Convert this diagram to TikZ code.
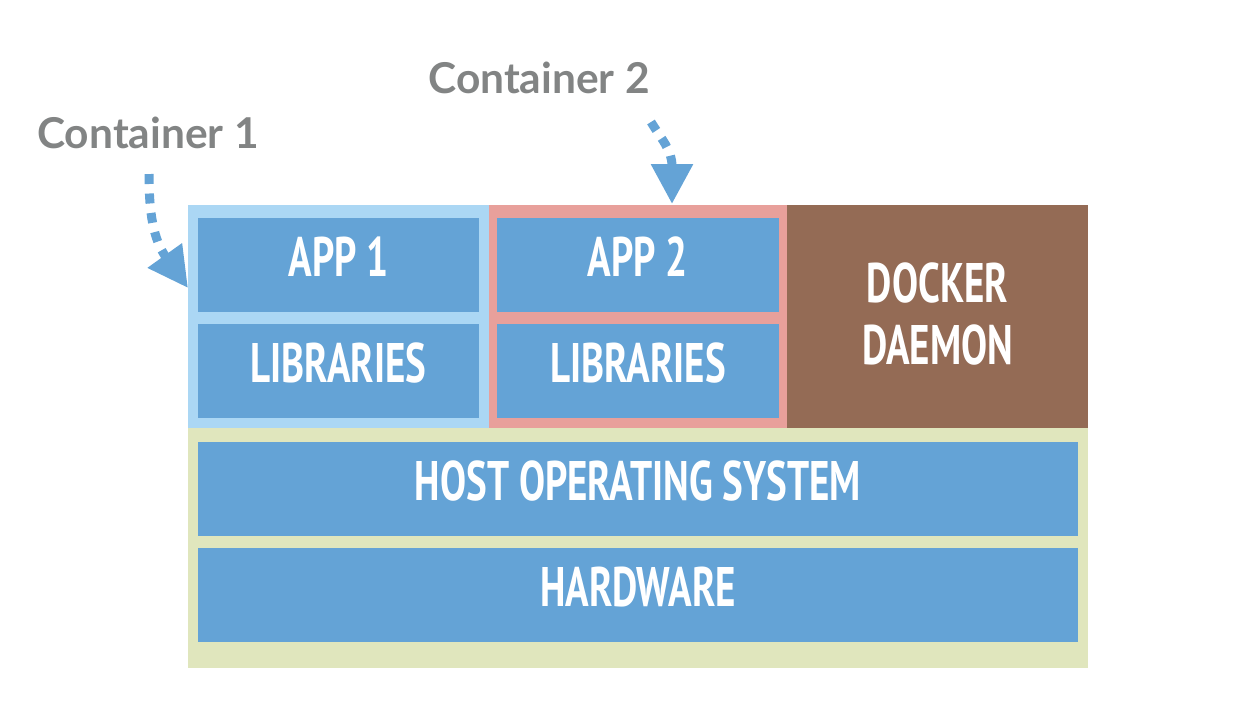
\documentclass[tikz,border=0pt]{standalone}
\usepackage{fontspec}
\usetikzlibrary{arrows.meta}
\newfontfamily\boxfont[FakeStretch=0.7]{PT Sans}
\newfontfamily\labfont{Lato}
\definecolor{c1bg}{HTML}{ABD7F4}
\definecolor{c2bg}{HTML}{E8A09B}
\definecolor{dmbg}{HTML}{946B55}
\definecolor{osbg}{HTML}{E0E6BD}
\definecolor{boxblue}{HTML}{64A3D6}
\definecolor{labgrey}{HTML}{828484}
\begin{document}
\begin{tikzpicture}[x=1pt,y=-1pt,
  panel/.style={fill=#1, draw=none, inner sep=0pt, outer sep=0pt, anchor=north west},
  boxtext/.style={text=white, font=\boxfont\bfseries\fontsize{55.7}{62}\selectfont},
  layer/.style={fill=boxblue, draw=none, inner sep=0pt, outer sep=0pt, anchor=north west,
    minimum height=94pt, boxtext, text height=39pt, text depth=17pt},
  clabel/.style={text=labgrey, font=\labfont\bfseries\fontsize{42.5}{48}\selectfont, anchor=base, inner sep=0pt},
  pointer/.style={draw=boxblue, line width=9pt, dash pattern=on 10pt off 9.5pt,
    -{Triangle[length=40pt,width=40pt]}}
]
\useasboundingbox (0,0) rectangle (1250,724);
% panels
\node[panel=c1bg, minimum width=301pt, minimum height=223pt] (c1) at (188,205) {};
\node[panel=c2bg, minimum width=298pt, minimum height=223pt] (c2) at (489,205) {};
\node[panel=dmbg, minimum width=301pt, minimum height=223pt, boxtext, align=center,
  text height=101pt, text depth=5pt] (dm) at (787,205) {DOCKER\\DAEMON};
\node[panel=osbg, minimum width=900pt, minimum height=240pt] (os) at (188,428) {};
% layers
\node[layer, minimum width=281pt] (app1) at (198,218) {APP 1};
\node[layer, minimum width=281pt] (lib1) at (198,324) {LIBRARIES};
\node[layer, minimum width=282pt] (app2) at (497,218) {APP 2};
\node[layer, minimum width=282pt] (lib2) at (497,324) {LIBRARIES};
\node[layer, minimum width=880pt] (host) at (198,442) {HOST OPERATING SYSTEM};
\node[layer, minimum width=880pt] (hw) at (198,548) {HARDWARE};
% labels
\node[clabel] (l1) at (148,148) {Container 1};
\node[clabel] (l2) at (539,93) {Container 2};
% pointers
\coordinate (s1) at (149,174);
\coordinate (t1) at (188,288);
\coordinate (s2) at (651,122);
\coordinate (t2) at (672,204);
\draw[pointer] (s1) .. controls (149,212) and (153,239) .. (t1);
\draw[pointer] (s2) .. controls (662,140) and (672,150) .. (t2);
\end{tikzpicture}
\end{document}
